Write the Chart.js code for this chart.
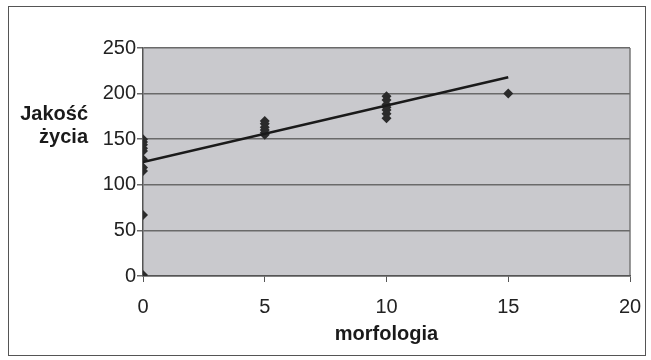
<!DOCTYPE html>
<html>
<head>
<meta charset="utf-8">
<script src="https://cdn.jsdelivr.net/npm/chart.js@4/dist/chart.umd.min.js"></script>
<style>
  body { margin: 0; background: #fff; }
  #wrap { position: relative; width: 651px; height: 360px; }
  #frame { position: absolute; left: 8px; top: 6px; width: 636px; height: 348px; border: 1.5px solid #555; }
  canvas { position: absolute; left: 0; top: 0; }
</style>
</head>
<body>
<div id="wrap">
  <div id="frame"></div>
  <canvas id="chart" width="651" height="360"></canvas>
</div>
<script>
// measured points (morfologia vs quality of life)
var morfologia = [0, 0, 0, 0, 0, 0, 0, 0, 0, 0,
                  5, 5, 5, 5, 5, 5,
                  10, 10, 10, 10, 10, 10, 10,
                  15];
var jakoscZycia = [150, 147, 144, 140, 137, 128, 119, 115, 67, 1,
                   170, 167, 163, 160, 157, 155,
                   197, 193, 188, 185, 182, 178, 173,
                   200];

// linear trend line end points
var trendX = [0, 15];
var trendY = [125, 218];

var xTicks = [0, 5, 10, 15, 20];
var yTicks = [0, 50, 100, 150, 200, 250];

var points = morfologia.map(function (x, i) { return { x: x, y: jakoscZycia[i] }; });
var trend = trendX.map(function (x, i) { return { x: x, y: trendY[i] }; });

var font = '"Liberation Sans", Arial, sans-serif';

var plotBg = {
  id: 'plotBg',
  beforeDraw: function (chart) {
    var a = chart.chartArea, ctx = chart.ctx;
    ctx.save();
    ctx.fillStyle = '#c9c9cd';
    ctx.fillRect(a.left, a.top, a.right - a.left, a.bottom - a.top);
    ctx.strokeStyle = '#777';
    ctx.lineWidth = 1.5;
    ctx.beginPath();
    ctx.moveTo(a.right, a.top);
    ctx.lineTo(a.right, a.bottom);
    ctx.stroke();
    ctx.restore();
  }
};

var yTitle = {
  id: 'yTitle',
  afterDraw: function (chart) {
    var ctx = chart.ctx;
    ctx.save();
    ctx.fillStyle = '#1a1a1a';
    ctx.font = 'bold 20px ' + font;
    ctx.textAlign = 'right';
    ctx.textBaseline = 'alphabetic';
    ctx.fillText('Jakość', 88, 120);
    ctx.fillText('życia', 88, 143);
    ctx.restore();
  }
};

new Chart(document.getElementById('chart'), {
  type: 'scatter',
  data: {
    datasets: [{
      label: 'dane',
      data: points,
      pointStyle: 'rectRot',
      pointRadius: 5,
      pointBackgroundColor: '#2b2b2b',
      pointBorderColor: '#2b2b2b',
      borderWidth: 0,
      order: 2
    }, {
      label: 'trend',
      data: trend,
      showLine: true,
      pointRadius: 0,
      borderColor: '#1a1a1a',
      borderWidth: 2.5,
      order: 1
    }]
  },
  options: {
    responsive: false,
    animation: false,
    layout: { padding: { top: 48, right: 21, bottom: 10, left: 0 } },
    plugins: { legend: { display: false }, tooltip: { enabled: false } },
    scales: {
      x: {
        type: 'linear',
        min: 0, max: 20,
        afterBuildTicks: function (s) { s.ticks = xTicks.map(function (v) { return { value: v }; }); },
        afterFit: function (s) { s.height = 74; s.paddingRight = 0; s.paddingLeft = 0; },
        grid: { drawOnChartArea: false, color: '#555', tickLength: 6 },
        border: { color: '#555', width: 1.5 },
        ticks: { color: '#222', font: { family: font, size: 20 }, padding: 13 },
        title: { display: true, text: 'morfologia', color: '#1a1a1a',
                 font: { family: font, size: 20, weight: 'bold' }, padding: { top: 7 } }
      },
      y: {
        min: 0, max: 250,
        afterBuildTicks: function (s) { s.ticks = yTicks.map(function (v) { return { value: v }; }); },
        afterFit: function (s) { s.width = 143; s.paddingTop = 0; s.paddingBottom = 0; },
        grid: { color: '#6a6a6a', lineWidth: 1.5, tickLength: 6 },
        border: { color: '#555', width: 1.5 },
        ticks: { color: '#222', font: { family: font, size: 20 }, padding: 1 }
      }
    }
  },
  plugins: [plotBg, yTitle]
});
</script>
</body>
</html>
